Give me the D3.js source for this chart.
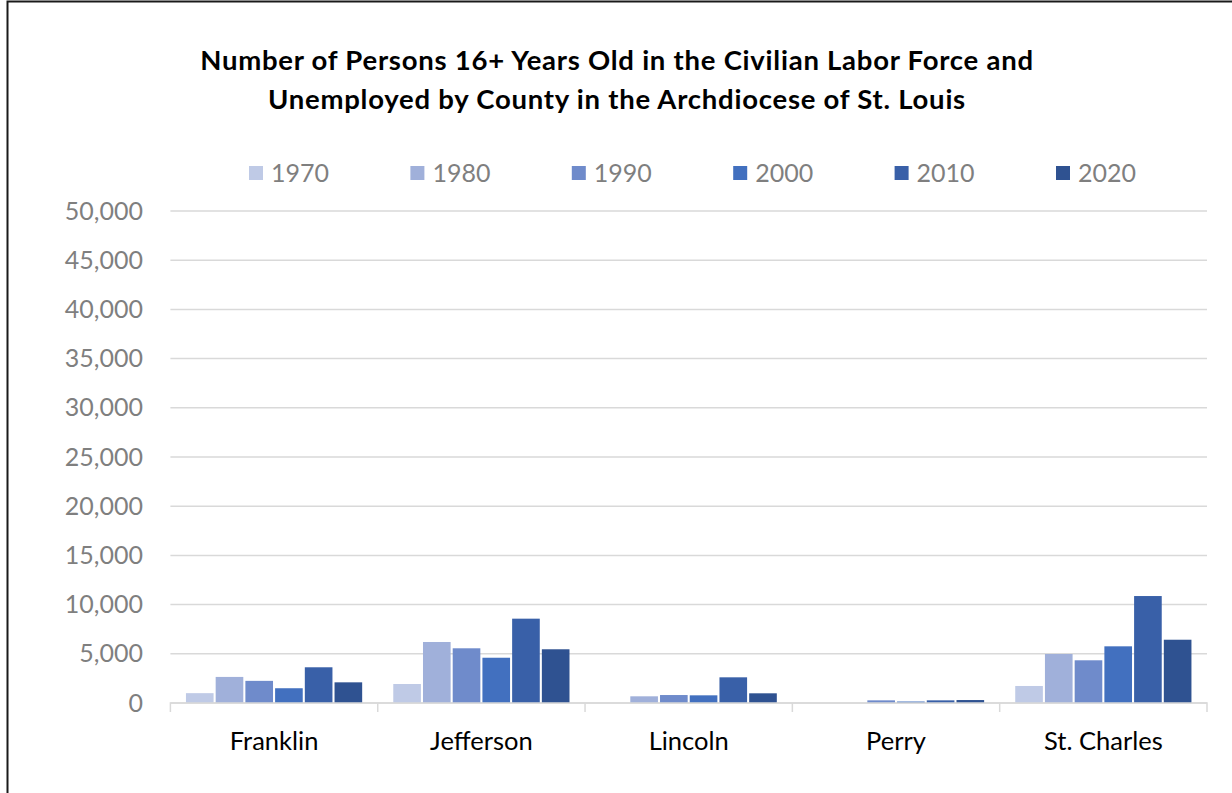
<!DOCTYPE html>
<html>
<head>
<meta charset="utf-8">
<script src="https://cdn.jsdelivr.net/npm/d3@7"></script>
<style>
  body { margin: 0; background: #fff; }
  svg { display: block; font-family: Lato, "Open Sans", sans-serif; }
</style>
</head>
<body>
<div class="chart"></div>
<script>
// data
var counties = ['Franklin', 'Jefferson', 'Lincoln', 'Perry', 'St. Charles'];
var years = ['1970', '1980', '1990', '2000', '2010', '2020'];
// one array per year, in county order (null = no bar shown)
var v1970 = [1000, 1930, null, null, 1730];
var v1980 = [2650, 6200, 680, null, 4980];
var v1990 = [2250, 5560, 810, 270, 4340];
var v2000 = [1500, 4600, 780, 150, 5760];
var v2010 = [3630, 8570, 2610, 270, 10870];
var v2020 = [2100, 5460, 985, 300, 6430];
var yTicks = [0, 5000, 10000, 15000, 20000, 25000, 30000, 35000, 40000, 45000, 50000];
var colors = ['#bfcae6', '#a0b0da', '#6f8bcb', '#4270bf', '#3960a8', '#2f5291'];

var series = [v1970, v1980, v1990, v2000, v2010, v2020];

var W = 1232, H = 793;

var svg = d3.select('.chart')
  .append('svg')
    .attr('width', W)
    .attr('height', H);

// outer frame (runs off the right and bottom edges)
svg.append('rect')
  .attr('x', 7.5).attr('y', 1.5)
  .attr('width', W + 20).attr('height', H + 20)
  .style('fill', 'none')
  .style('stroke', '#1a1a1a')
  .style('stroke-width', 2);

// title
var title = svg.append('text')
  .attr('text-anchor', 'middle')
  .style('font-weight', 'bold')
  .style('font-size', '27.5px')
  .style('letter-spacing', '0.75px')
  .style('fill', '#000');
title.append('tspan').attr('x', 617).attr('y', 70)
  .text('Number of Persons 16+ Years Old in the Civilian Labor Force and');
title.append('tspan').attr('x', 617).attr('y', 109)
  .text('Unemployed by County in the Archdiocese of St. Louis');

var x0 = d3.scaleBand()
  .domain(counties)
  .range([170.4, 1207]);

var pad = x0.bandwidth() * 0.075;
var x1 = d3.scaleBand()
  .domain(years)
  .range([pad, x0.bandwidth() - pad])
  .paddingInner(0.07);

var yScale = d3.scaleLinear()
  .domain([0, 50000])
  .range([703, 211]);

// gridlines
svg.append('g')
  .selectAll('line')
  .data(yTicks)
  .join('line')
    .attr('x1', 170.4).attr('x2', 1207)
    .attr('y1', d => yScale(d)).attr('y2', d => yScale(d))
    .style('stroke', '#d9d9d9')
    .style('stroke-width', 1.5);

// y axis labels
var yAxis = d3.axisLeft(yScale)
  .tickValues(yTicks)
  .tickSize(0)
  .tickPadding(0)
  .tickFormat(d3.format(','));

svg.append('g')
  .attr('transform', 'translate(143, 0)')
  .call(yAxis)
  .call(g => g.select('.domain').remove())
  .call(g => g.selectAll('text')
    .style('font-family', 'Lato, sans-serif')
    .style('font-size', '25px')
    .style('fill', '#7f7f7f'));

// bars
var groups = svg.append('g')
  .selectAll('g')
  .data(counties)
  .join('g')
    .attr('transform', d => `translate(${x0(d)}, 0)`);

groups.selectAll('rect')
  .data((c, i) => years.map((yr, j) => ({ year: yr, value: series[j][i], color: colors[j] })))
  .join('rect')
    .filter(d => d.value != null)
    .attr('x', d => x1(d.year))
    .attr('width', x1.bandwidth())
    .attr('y', d => yScale(d.value))
    .attr('height', d => yScale(0) - yScale(d.value))
    .style('fill', d => d.color);

// x axis
var xAxis = d3.axisBottom(x0)
  .tickSize(0)
  .tickPadding(0);

var xg = svg.append('g')
  .attr('transform', `translate(0, ${yScale(0)})`)
  .call(xAxis);
xg.select('.domain')
  .attr('d', `M170.4,9V0H1207V9`)
  .style('stroke', '#d9d9d9')
  .style('stroke-width', 1.5);
xg.selectAll('text')
  .attr('y', 47)
  .attr('dy', 0)
  .style('font-family', 'Lato, sans-serif')
  .style('font-size', '25.5px')
  .style('fill', '#000');
// separators between counties
xg.selectAll('line.sep')
  .data(counties.slice(1))
  .join('line')
    .attr('class', 'sep')
    .attr('x1', d => x0(d)).attr('x2', d => x0(d))
    .attr('y1', 0).attr('y2', 9)
    .style('stroke', '#d9d9d9')
    .style('stroke-width', 1.5);

// legend
var legend = svg.append('g')
  .selectAll('g')
  .data(years)
  .join('g')
    .attr('transform', (d, i) => `translate(${249 + i * 161.4}, 173)`);
legend.append('rect')
  .attr('x', 0).attr('y', -7)
  .attr('width', 14).attr('height', 14)
  .style('fill', (d, i) => colors[i]);
legend.append('text')
  .attr('x', 22).attr('y', 9)
  .style('font-size', '25px')
  .style('fill', '#7f7f7f')
  .text(d => d);
</script>
</body>
</html>
